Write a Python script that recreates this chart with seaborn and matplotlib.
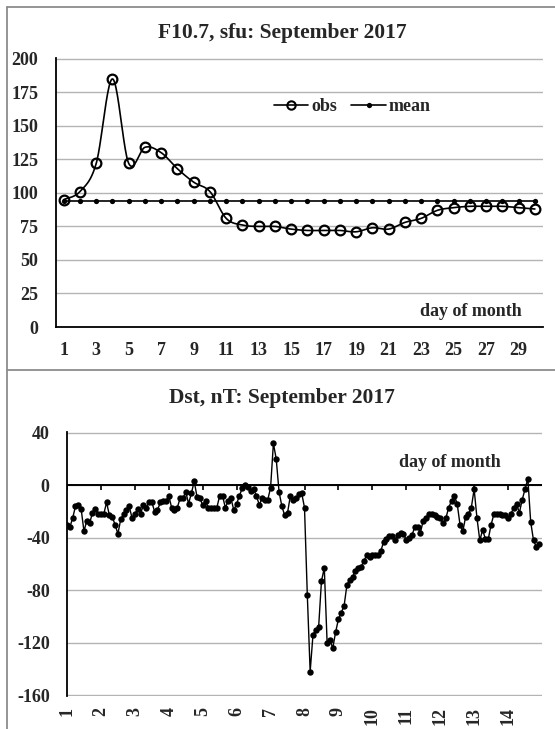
import numpy as np
import pandas as pd
import matplotlib
matplotlib.use("Agg")
import matplotlib.pyplot as plt
import seaborn as sns
from matplotlib.lines import Line2D

# ---------------- data ----------------
days = list(range(1, 31))
f107_obs = [95, 101, 122, 185, 122, 134, 130, 118, 108, 101,
            81, 76, 75, 75, 73, 72, 72, 72, 71, 74,
            73, 78, 81, 87, 89, 90, 90, 90, 89, 88]
f107_mean = [94, 94, 94, 94, 94, 94, 94, 94, 94, 94,
             94, 94, 94, 94, 94, 94, 94, 94, 94, 94,
             94, 94, 94, 94, 94, 94, 94, 94, 94, 94]
f107_xlabels = ["1", "3", "5", "7", "9", "11", "13", "15", "17", "19",
                "21", "23", "25", "27", "29"]
f107_yticks = [0, 25, 50, 75, 100, 125, 150, 175, 200]

# Dst, 2-hourly values (12 per day), days 1..14
dst_values = [
    -30, -32, -25, -16, -15, -18, -35, -27, -29, -21, -18, -22,   # day 1
    -22, -22, -13, -23, -24, -30, -37, -26, -22, -19, -16, -25,   # day 2
    -22, -18, -22, -15, -17, -13, -13, -20, -19, -13, -12, -12,   # day 3
    -8, -17, -19, -17, -10, -10, -5, -14, -6, 3, -9, -10,         # day 4
    -15, -12, -17, -17, -17, -17, -8, -8, -17, -12, -10, -19,     # day 5
    -14, -8, -2, 0, -1, -4, -3, -8, -15, -10, -11, -11,           # day 6
    -2, 32, 20, -5, -16, -23, -21, -8, -11, -10, -7, -6,          # day 7
    -17, -84, -142, -114, -110, -108, -73, -63, -120, -118, -124, -112,  # day 8
    -102, -97, -92, -76, -72, -70, -65, -63, -62, -58, -53, -55,  # day 9
    -53, -53, -53, -50, -43, -41, -39, -39, -42, -38, -36, -37,   # day 10
    -42, -40, -38, -32, -32, -36, -27, -25, -22, -22, -23, -24,   # day 11
    -25, -29, -25, -17, -12, -8, -14, -30, -35, -24, -22, -17,    # day 12
    -3, -25, -42, -34, -41, -41, -30, -22, -22, -22, -23, -23,    # day 13
    -25, -22, -17, -14, -21, -11, -3, 5, -28, -42, -47, -45,      # day 14
]
dst_days = ["1", "2", "3", "4", "5", "6", "7", "8", "9", "10", "11", "12", "13", "14"]
dst_yticks = [-160, -120, -80, -40, 0, 40]
points_per_day = 12

# ---------------- style ----------------
sns.set_style("white")
plt.rcParams['font.family'] = ['Liberation Serif', 'DejaVu Serif']
plt.rcParams['font.weight'] = 'bold'
plt.rcParams['axes.labelweight'] = 'bold'

W, H = 555, 729
fig = plt.figure(figsize=(W / 100, H / 100), dpi=100)
FS = 13
TFS = 15.5
GRID = '#b4b4b4'


def fx(px):
    return px / W


def fy(py):
    return 1 - py / H


def smooth_curve(x, y, n=24):
    x = np.asarray(x, float)
    y = np.asarray(y, float)
    xs, ys = [], []
    m = len(x)
    t = np.linspace(0, 1, n)
    for i in range(m - 1):
        p0 = i - 1 if i > 0 else i
        p3 = i + 2 if i + 2 < m else i + 1
        c1x = x[i] + (x[i + 1] - x[p0]) / 6
        c1y = y[i] + (y[i + 1] - y[p0]) / 6
        c2x = x[i + 1] - (x[p3] - x[i]) / 6
        c2y = y[i + 1] - (y[p3] - y[i]) / 6
        bx = (1 - t) ** 3 * x[i] + 3 * (1 - t) ** 2 * t * c1x + 3 * (1 - t) * t ** 2 * c2x + t ** 3 * x[i + 1]
        by = (1 - t) ** 3 * y[i] + 3 * (1 - t) ** 2 * t * c1y + 3 * (1 - t) * t ** 2 * c2y + t ** 3 * y[i + 1]
        xs.extend(bx)
        ys.extend(by)
    return np.array(xs), np.array(ys)


# ---------------- panel borders ----------------
border_c = '#8c8c8c'
fig.add_artist(Line2D([fx(6.7), fx(6.7)], [0, fy(6.7)], color=border_c, lw=1.3))
fig.add_artist(Line2D([fx(6.7), 1], [fy(6.7), fy(6.7)], color=border_c, lw=1.3))
fig.add_artist(Line2D([fx(6.7), 1], [fy(370), fy(370)], color=border_c, lw=1.3))

# ---------------- top panel: F10.7 ----------------
ax1 = fig.add_axes([fx(55.6), fy(327), fx(543) - fx(55.6), fy(58) - fy(327)])
df_top = pd.DataFrame({"day": days, "obs": f107_obs, "mean": f107_mean})

sns.lineplot(data=df_top, x="day", y="mean", ax=ax1, color='black', lw=1.2,
             marker='o', markersize=3.8, markeredgewidth=0, zorder=3)
sx, sy = smooth_curve(df_top["day"], df_top["obs"])
ax1.plot(sx, sy, color='black', lw=1.2, zorder=4)
ax1.plot(df_top["day"], df_top["obs"], ls='none', marker='o', mfc='none',
         mec='black', ms=7, mew=1.6, zorder=5)

ax1.set_xlim(0.5, 30.5)
ax1.set_ylim(0, 200.6)
ax1.set_yticks(f107_yticks)
ax1.set_yticklabels([str(v) for v in f107_yticks], fontsize=FS, fontweight='bold')
ax1.set_xticks(list(range(1, 31, 2)))
ax1.set_xticklabels(f107_xlabels, fontsize=FS, fontweight='bold')
ax1.set_xticks(np.arange(0.5, 31, 1.0), minor=True)
ax1.tick_params(axis='x', which='major', length=0, pad=11)
ax1.tick_params(axis='x', which='minor', length=5, width=1.2, color='black', direction='out')
ax1.tick_params(axis='y', which='major', length=3.5, width=1.2, color='black',
                direction='out', pad=9)
ax1.yaxis.grid(True, color=GRID, lw=1)
ax1.xaxis.grid(False)
ax1.set_axisbelow(True)
for s in ['top', 'right']:
    ax1.spines[s].set_visible(False)
for s in ['left', 'bottom']:
    ax1.spines[s].set_color('black')
    ax1.spines[s].set_linewidth(1.3)
ax1.set_xlabel('')
ax1.set_ylabel('')
ax1.text(0.852, 0.056, 'day of month', transform=ax1.transAxes, ha='center',
         va='center', fontsize=FS, fontweight='bold')
handles = [Line2D([], [], color='black', lw=1.2, marker='o', mfc='none', mec='black',
                  ms=6, mew=1.5),
           Line2D([], [], color='black', lw=1.2, marker='o', ms=3.8, mew=0)]
ax1.legend(handles, ['obs', 'mean'], loc='center left', bbox_to_anchor=(0.415, 0.818),
           ncol=2, frameon=False, handlelength=1.9, handletextpad=0.15,
           columnspacing=0.8, prop={'weight': 'bold', 'size': FS})
fig.text(fx(282), fy(33), 'F10.7, sfu: September 2017', ha='center', va='center',
         fontsize=TFS, fontweight='bold')

# ---------------- bottom panel: Dst ----------------
ax2 = fig.add_axes([fx(67), fy(696), fx(542) - fx(67), fy(432) - fy(696)])
df_dst = pd.DataFrame({"idx": np.arange(len(dst_values)), "dst": dst_values})
sns.lineplot(data=df_dst, x="idx", y="dst", ax=ax2, color='black', lw=1.0,
             marker='o', markersize=4.6, markeredgewidth=0, zorder=4)

ax2.set_xlim(0, 168)
ax2.set_ylim(-160.6, 40.6)
ax2.set_yticks(dst_yticks)
ax2.set_yticklabels([str(v) for v in dst_yticks], fontsize=FS, fontweight='bold')
tick_pos = [points_per_day * i for i in range(len(dst_days))]
ax2.set_xticks(tick_pos)
ax2.set_xticklabels(dst_days, rotation=90, fontsize=FS, fontweight='bold')
ax2.tick_params(axis='x', which='major', length=0, pad=8)
ax2.tick_params(axis='y', which='major', length=3.5, width=1.2, color='black',
                direction='out', pad=9)
ax2.yaxis.grid(True, color=GRID, lw=1)
ax2.xaxis.grid(False)
ax2.set_axisbelow(True)
ax2.axhline(0, color='black', lw=1.4, zorder=3)
ax2.vlines(tick_pos, -3.8, 0, color='black', lw=1.2, zorder=3)
for s in ['top', 'right', 'bottom']:
    ax2.spines[s].set_visible(False)
ax2.spines['left'].set_color('black')
ax2.spines['left'].set_linewidth(1.3)
ax2.set_xlabel('')
ax2.set_ylabel('')
ax2.text(0.806, 0.886, 'day of month', transform=ax2.transAxes, ha='center',
         va='center', fontsize=FS, fontweight='bold')
fig.text(fx(282), fy(398), 'Dst, nT: September 2017', ha='center', va='center',
         fontsize=TFS, fontweight='bold')

fig.savefig('out.png', dpi=100)
